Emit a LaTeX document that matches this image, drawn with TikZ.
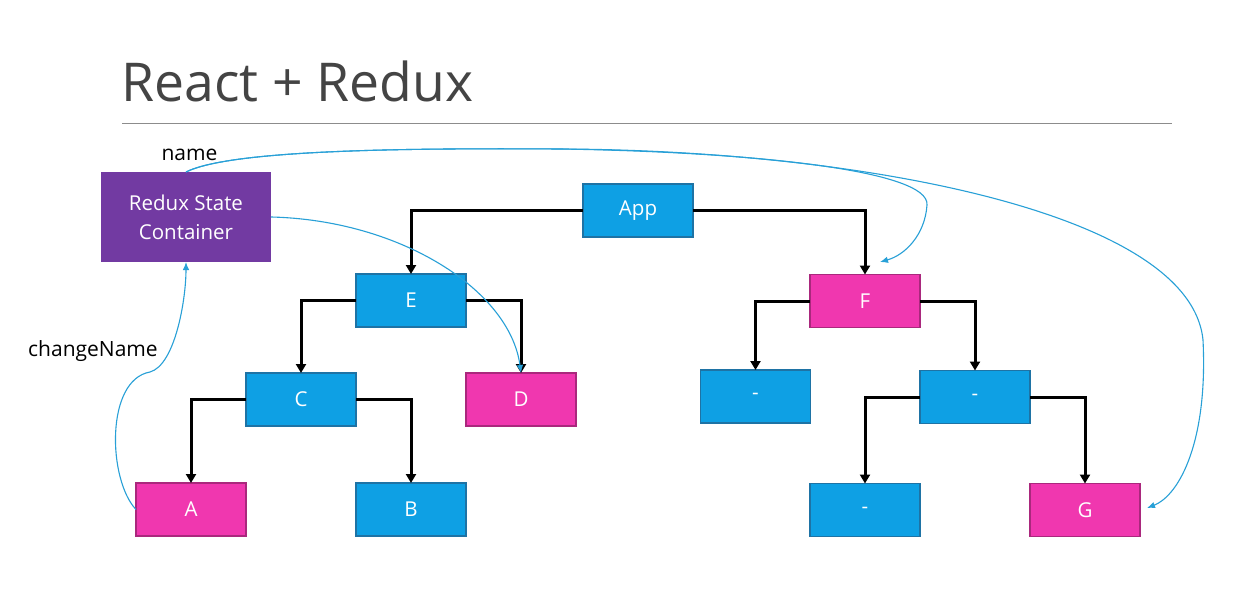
\documentclass[tikz,border=0pt]{standalone}
\usepackage{fontspec}
\setmainfont{Open Sans}
\usetikzlibrary{arrows.meta}
\definecolor{boxblue}{RGB}{14,160,228}
\definecolor{boxblueline}{RGB}{30,115,165}
\definecolor{boxpink}{RGB}{240,55,175}
\definecolor{boxpinkline}{RGB}{170,40,125}
\definecolor{reduxpurple}{RGB}{114,58,162}
\definecolor{flow}{RGB}{40,160,215}
\definecolor{titlegray}{RGB}{68,68,68}
\definecolor{rulegray}{RGB}{140,140,140}
\tikzset{
  comp/.style={rectangle, minimum width=110pt, minimum height=53pt, inner sep=0pt, outer sep=0pt,
    line width=1.3pt, text=white, font=\fontsize{20.5}{24}\selectfont},
  bluebox/.style={comp, fill=boxblue, draw=boxblueline},
  pinkbox/.style={comp, fill=boxpink, draw=boxpinkline},
  tree/.style={line width=3pt, black, -{Triangle[length=9pt,width=10pt]}},
  flowline/.style={line width=1.1pt, flow, -{Latex[length=8pt,width=6.5pt]}},
  lbl/.style={inner sep=0pt, text=black, font=\fontsize{21}{25}\selectfont}
}
\begin{document}
\begin{tikzpicture}[x=1pt,y=-1pt]
\fill[white] (0,0) rectangle (1259,602);
\useasboundingbox (0,0) rectangle (1259,602);

% title and rule
\node[anchor=base west, inner sep=0pt, text=titlegray, font=\fontsize{53.5}{58}\selectfont] (title) at (121,101) {React + Redux};
\draw[rulegray, line width=1pt] (122,123) -- (1172,123);

% nodes
\node[comp, fill=reduxpurple, draw=none, minimum width=170pt, minimum height=90pt, align=center,
  font=\fontsize{20.5}{29}\selectfont] (redux) at (186,217) {Redux State\\Container};
\node[bluebox] (app) at (638,210.5) {App};
\node[bluebox] (E) at (411,300.5) {E};
\node[pinkbox] (F) at (865,301) {F};
\node[bluebox] (C) at (301,399.5) {C};
\node[pinkbox] (D) at (521,399.5) {D};
\node[bluebox] (L1) at (755.5,396.5) {-};
\node[bluebox] (R1) at (975,397) {-};
\node[pinkbox] (A) at (191,509.5) {A};
\node[bluebox] (B) at (411,509.5) {B};
\node[bluebox] (L2) at (865,510) {-};
\node[pinkbox] (G) at (1085,510) {G};

% labels
\node[lbl, anchor=base] (namelbl) at (189.5,160) {name};
\node[lbl, anchor=base west] (cnlbl) at (28,356) {changeName};

% tree connectors
\draw[tree] (app.west) -| (E.north);
\draw[tree] (app.east) -| (F.north);
\draw[tree] (E.west) -| (C.north);
\draw[tree] (E.east) -| (D.north);
\draw[tree] (C.west) -| (A.north);
\draw[tree] (C.east) -| (B.north);
\draw[tree] (F.west) -| (L1.north);
\draw[tree] (F.east) -| (R1.north);
\draw[tree] (R1.west) -| (L2.north);
\draw[tree] (R1.east) -| (G.north);

% redux flows
\coordinate (Fin) at (880,262);
\coordinate (Gin) at (1147,508);
\draw[flowline] (redux.north) .. controls (230,150) and (400,148) .. (560,149)
  .. controls (750,152) and (930,170) .. (927,205)
  .. controls (925,235) and (905,255) .. (Fin);
\draw[flowline] (redux.north) .. controls (230,150) and (400,148) .. (560,149)
  .. controls (850,150) and (1190,210) .. (1203,340)
  .. controls (1208,440) and (1180,495) .. (Gin);
\draw[flowline] (redux.east) .. controls (400,220) and (510,290) .. (D.north);
\draw[flowline] (A.west) .. controls (108,480) and (105,380) .. (150,372)
  .. controls (175,365) and (186,300) .. (redux.south);
\end{tikzpicture}
\end{document}
